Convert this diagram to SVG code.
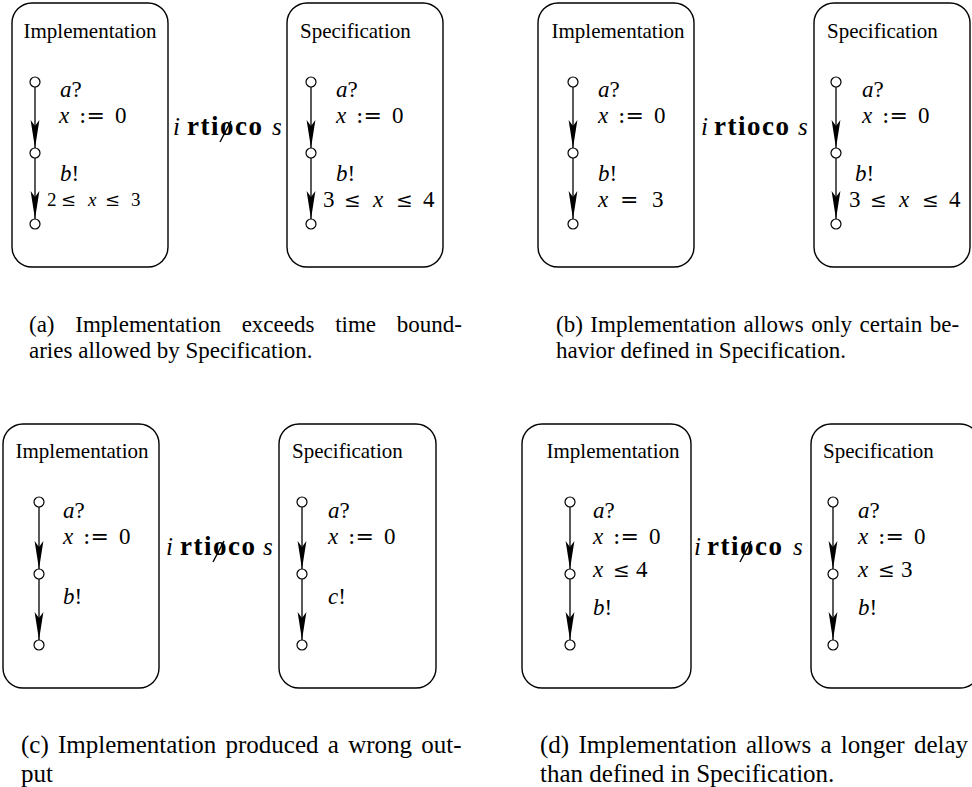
<svg xmlns="http://www.w3.org/2000/svg" width="972" height="787" viewBox="0 0 972 787">
  <style>
    .box { fill: none; stroke: #000; stroke-width: 1.4; }
    .st { fill: #fff; stroke: #000; stroke-width: 1.2; }
    .edge { fill: none; stroke: #000; stroke-width: 1.3; marker-end: url(#arr); }
    .slash { stroke: #000; stroke-width: 1.4; }
    text { fill: #000; font-family: "Liberation Serif", "Times New Roman", serif; }
    .lbl { font-size: 21px; }
    .m { font-size: 23px; }
    .mr { font-size: 25px; }
    .sm { font-size: 19px; }
    .v { font-style: italic; }
    .op { font-family: "DejaVu Serif", serif; font-size: 22px; }
    .opsm { font-family: "DejaVu Serif", serif; font-size: 18px; }
    .le { font-family: "DejaVu Serif", serif; font-size: 20px; }
    .b { font-weight: bold; font-size: 27px; }
    .cap { font-size: 23px; }
    .cap2 { font-size: 25px; }
  </style>
  <defs>
    <marker id="arr" markerUnits="userSpaceOnUse" viewBox="0 0 28 10" refX="28" refY="5" markerWidth="28" markerHeight="10" orient="auto">
      <path d="M0,0.6 L28,5 L0,9.4 L6,5 Z" fill="#000"/>
    </marker>
  </defs>

  <!-- ===== (a) ===== -->
  <g id="a-impl">
    <rect class="box" x="12" y="3" width="156" height="264" rx="20"/>
    <text class="lbl" x="90" y="38" text-anchor="middle">Implementation</text>
    <circle class="st" cx="35" cy="82" r="5"/>
    <circle class="st" cx="35" cy="153" r="5"/>
    <circle class="st" cx="35" cy="224" r="5"/>
    <text class="m"><tspan x="60" y="97" class="v">a</tspan><tspan>?</tspan><tspan x="59" y="123" class="v">x</tspan><tspan x="79" class="op">:=</tspan><tspan x="115">0</tspan></text>
    <text class="m"><tspan x="60" y="181" class="v">b</tspan><tspan>!</tspan><tspan class="sm" x="47" y="206">2</tspan><tspan x="61" class="opsm">≤</tspan><tspan x="88" class="v sm">x</tspan><tspan x="105" class="opsm">≤</tspan><tspan x="131" class="sm">3</tspan></text>
  </g>
  <g id="a-rel">
    <text class="mr v" x="173" y="135">i</text>
    <text class="b" x="187" y="135" textLength="75" lengthAdjust="spacing">rtioco</text>
    <line class="slash" x1="220" y1="142" x2="231" y2="121"/>
    <text class="mr v" x="272" y="135">s</text>
  </g>
  <g id="a-spec">
    <rect class="box" x="287" y="3" width="156" height="264" rx="20"/>
    <text class="lbl" x="300" y="38">Specification</text>
    <circle class="st" cx="311" cy="82" r="5"/>
    <circle class="st" cx="311" cy="153" r="5"/>
    <circle class="st" cx="311" cy="224" r="5"/>
    <text class="m"><tspan x="336" y="97" class="v">a</tspan><tspan>?</tspan><tspan x="336" y="123" class="v">x</tspan><tspan x="356" class="op">:=</tspan><tspan x="392">0</tspan></text>
    <text class="m"><tspan x="336" y="181" class="v">b</tspan><tspan>!</tspan><tspan x="323" y="207">3</tspan><tspan x="344" class="le">≤</tspan><tspan x="373" class="v">x</tspan><tspan x="396" class="le">≤</tspan><tspan x="423">4</tspan></text>
  </g>

  <!-- ===== (b) ===== -->
  <g id="b-impl">
    <rect class="box" x="538" y="3" width="156" height="264" rx="20"/>
    <text class="lbl" x="618" y="38" text-anchor="middle">Implementation</text>
    <circle class="st" cx="573" cy="82" r="5"/>
    <circle class="st" cx="573" cy="153" r="5"/>
    <circle class="st" cx="573" cy="224" r="5"/>
    <text class="m"><tspan x="598" y="97" class="v">a</tspan><tspan>?</tspan><tspan x="598" y="123" class="v">x</tspan><tspan x="618" class="op">:=</tspan><tspan x="654">0</tspan></text>
    <text class="m"><tspan x="598" y="181" class="v">b</tspan><tspan>!</tspan><tspan x="598" y="207" class="v">x</tspan><tspan x="620" class="op">=</tspan><tspan x="652">3</tspan></text>
  </g>
  <g id="b-rel">
    <text class="mr v" x="701" y="135">i</text>
    <text class="b" x="714" y="135" textLength="75" lengthAdjust="spacing">rtioco</text>
    <text class="mr v" x="798" y="135">s</text>
  </g>
  <g id="b-spec">
    <rect class="box" x="814" y="3" width="156" height="264" rx="20"/>
    <text class="lbl" x="827" y="38">Specification</text>
    <circle class="st" cx="836" cy="82" r="5"/>
    <circle class="st" cx="836" cy="153" r="5"/>
    <circle class="st" cx="836" cy="224" r="5"/>
    <text class="m"><tspan x="862" y="97" class="v">a</tspan><tspan>?</tspan><tspan x="862" y="123" class="v">x</tspan><tspan x="882" class="op">:=</tspan><tspan x="918">0</tspan></text>
    <text class="m"><tspan x="855" y="181" class="v">b</tspan><tspan>!</tspan><tspan x="849" y="207">3</tspan><tspan x="870" class="le">≤</tspan><tspan x="899" class="v">x</tspan><tspan x="922" class="le">≤</tspan><tspan x="949">4</tspan></text>
  </g>

  <!-- ===== (c) ===== -->
  <g id="c-impl">
    <rect class="box" x="3" y="424" width="156" height="264" rx="20"/>
    <text class="lbl" x="82" y="458" text-anchor="middle">Implementation</text>
    <circle class="st" cx="39" cy="502" r="5"/>
    <circle class="st" cx="39" cy="574" r="5"/>
    <circle class="st" cx="39" cy="645" r="5"/>
    <text class="m"><tspan x="63" y="518" class="v">a</tspan><tspan>?</tspan><tspan x="63" y="544" class="v">x</tspan><tspan x="83" class="op">:=</tspan><tspan x="119">0</tspan></text>
    <text class="m" y="604"><tspan x="63" class="v">b</tspan><tspan>!</tspan></text>
  </g>
  <g id="c-rel">
    <text class="mr v" x="166" y="555">i</text>
    <text class="b" x="180" y="555" textLength="75" lengthAdjust="spacing">rtioco</text>
    <line class="slash" x1="213" y1="562" x2="224" y2="541"/>
    <text class="mr v" x="263" y="555">s</text>
  </g>
  <g id="c-spec">
    <rect class="box" x="279" y="424" width="157" height="264" rx="20"/>
    <text class="lbl" x="292" y="458">Specification</text>
    <circle class="st" cx="302" cy="502" r="5"/>
    <circle class="st" cx="302" cy="574" r="5"/>
    <circle class="st" cx="302" cy="645" r="5"/>
    <text class="m"><tspan x="328" y="518" class="v">a</tspan><tspan>?</tspan><tspan x="328" y="544" class="v">x</tspan><tspan x="348" class="op">:=</tspan><tspan x="384">0</tspan></text>
    <text class="m" y="604"><tspan x="328" class="v">c</tspan><tspan>!</tspan></text>
  </g>

  <!-- ===== (d) ===== -->
  <g id="d-impl">
    <rect class="box" x="522" y="424" width="169" height="264" rx="20"/>
    <text class="lbl" x="613" y="458" text-anchor="middle">Implementation</text>
    <circle class="st" cx="570" cy="502" r="5"/>
    <circle class="st" cx="570" cy="574" r="5"/>
    <circle class="st" cx="570" cy="645" r="5"/>
    <text class="m"><tspan x="593" y="518" class="v">a</tspan><tspan>?</tspan><tspan x="593" y="544" class="v">x</tspan><tspan x="613" class="op">:=</tspan><tspan x="649">0</tspan><tspan x="593" y="577" class="v">x</tspan><tspan x="613" class="le">≤</tspan><tspan x="636">4</tspan><tspan x="593" y="615" class="v">b</tspan><tspan>!</tspan></text>
  </g>
  <g id="d-rel">
    <text class="mr v" x="694" y="555">i</text>
    <text class="b" x="707" y="555" textLength="75" lengthAdjust="spacing">rtioco</text>
    <line class="slash" x1="740" y1="562" x2="751" y2="541"/>
    <text class="mr v" x="793" y="555">s</text>
  </g>
  <g id="d-spec">
    <rect class="box" x="811" y="424" width="169" height="264" rx="20"/>
    <text class="lbl" x="823" y="458">Specification</text>
    <circle class="st" cx="833" cy="502" r="5"/>
    <circle class="st" cx="833" cy="574" r="5"/>
    <circle class="st" cx="833" cy="645" r="5"/>
    <text class="m"><tspan x="858" y="518" class="v">a</tspan><tspan>?</tspan><tspan x="858" y="544" class="v">x</tspan><tspan x="878" class="op">:=</tspan><tspan x="914">0</tspan><tspan x="858" y="577" class="v">x</tspan><tspan x="878" class="le">≤</tspan><tspan x="901">3</tspan><tspan x="858" y="615" class="v">b</tspan><tspan>!</tspan></text>
  </g>

  <!-- transitions -->
  <g id="connectors">
    <line class="edge" x1="35" y1="87" x2="35" y2="148"/>
    <line class="edge" x1="35" y1="158" x2="35" y2="219"/>
    <line class="edge" x1="311" y1="87" x2="311" y2="148"/>
    <line class="edge" x1="311" y1="158" x2="311" y2="219"/>
    <line class="edge" x1="573" y1="87" x2="573" y2="148"/>
    <line class="edge" x1="573" y1="158" x2="573" y2="219"/>
    <line class="edge" x1="836" y1="87" x2="836" y2="148"/>
    <line class="edge" x1="836" y1="158" x2="836" y2="219"/>
    <line class="edge" x1="39" y1="507" x2="39" y2="569"/>
    <line class="edge" x1="39" y1="579" x2="39" y2="640"/>
    <line class="edge" x1="302" y1="507" x2="302" y2="569"/>
    <line class="edge" x1="302" y1="579" x2="302" y2="640"/>
    <line class="edge" x1="570" y1="507" x2="570" y2="569"/>
    <line class="edge" x1="570" y1="579" x2="570" y2="640"/>
    <line class="edge" x1="833" y1="507" x2="833" y2="569"/>
    <line class="edge" x1="833" y1="579" x2="833" y2="640"/>
  </g>

  <!-- captions -->
  <g id="captions">
    <text class="cap" x="29" y="332" word-spacing="15">(a) Implementation exceeds time bound-</text>
    <text class="cap" x="29" y="358">aries allowed by Specification.</text>
    <text class="cap" x="556" y="332" word-spacing="1.8">(b) Implementation allows only certain be-</text>
    <text class="cap" x="556" y="358">havior defined in Specification.</text>
    <text class="cap2" x="21" y="753" word-spacing="3">(c) Implementation produced a wrong out-</text>
    <text class="cap2" x="21" y="782">put</text>
    <text class="cap2" x="540" y="753" word-spacing="3">(d) Implementation allows a longer delay</text>
    <text class="cap2" x="540" y="782">than defined in Specification.</text>
  </g>
</svg>
